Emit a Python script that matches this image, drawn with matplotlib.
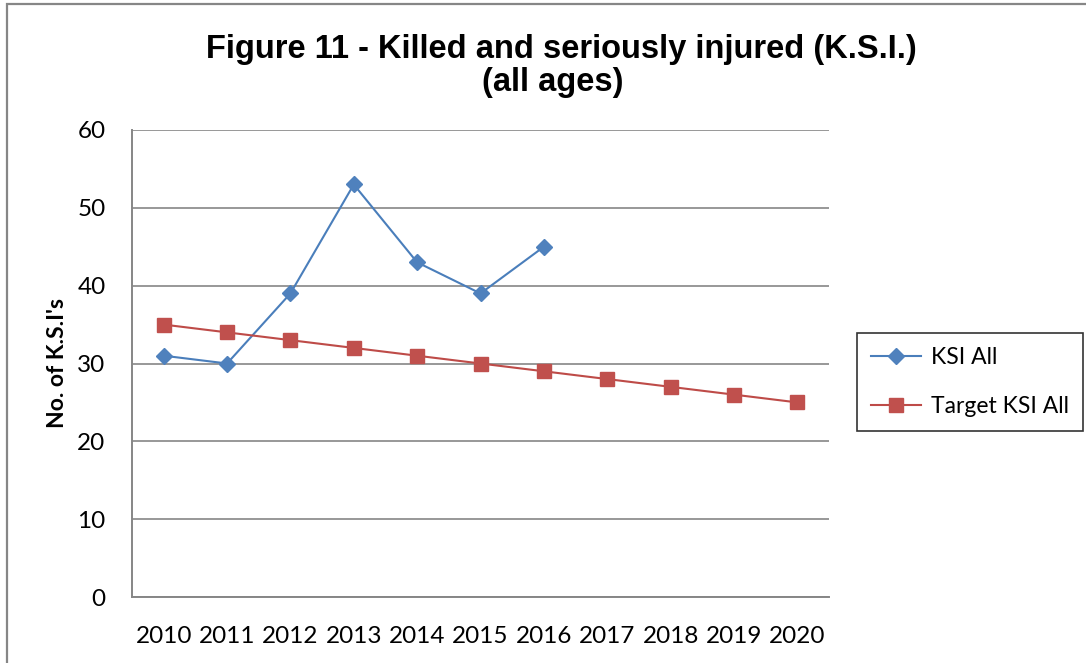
import numpy as np
import matplotlib.pyplot as plt
from matplotlib.patches import Rectangle

years = ['2010', '2011', '2012', '2013', '2014', '2015', '2016',
         '2017', '2018', '2019', '2020']
ksi_all = [31, 30, 39, 53, 43, 39, 45]
target_ksi = [35, 34, 33, 32, 31, 30, 29, 28, 27, 26, 25]

W, H = 1086, 663
fig = plt.figure(figsize=(W / 100, H / 100), dpi=100)

# outer chart frame (runs off the right and bottom edges)
fig.patches.append(Rectangle((7 / W, -0.1), 1.2, 1.1 - 4 / H,
                             transform=fig.transFigure, fill=False,
                             edgecolor='#868686', linewidth=1.6))

ax = fig.add_axes([132 / W, 66 / H, 697 / W, 467 / H])

x = np.arange(len(years))
ax.plot(x[:len(ksi_all)], ksi_all, color='#4A7EBB', linewidth=1.5,
        marker='D', markersize=8, markerfacecolor='#4F81BD',
        markeredgecolor='#4F81BD', label='KSI All')
ax.plot(x, target_ksi, color='#BE4B48', linewidth=1.5,
        marker='s', markersize=9.5, markerfacecolor='#C0504D',
        markeredgecolor='#C0504D', label='Target KSI All')

ax.set_xlim(-0.5, len(years) - 0.5)
ax.set_ylim(0, 60)
ax.set_yticks(range(0, 61, 10))
ax.set_xticks(x)
ax.set_xticklabels(years)
ax.grid(axis='y', color='#868686', linewidth=1.2)
ax.set_axisbelow(True)
for side in ['top', 'right']:
    ax.spines[side].set_visible(False)
for side in ['left', 'bottom']:
    ax.spines[side].set_color('#868686')
    ax.spines[side].set_linewidth(1.4)
ax.tick_params(length=0, labelsize=17.5)
ax.tick_params(axis='y', pad=19)
ax.tick_params(axis='x', pad=21)
for lab in ax.get_xticklabels() + ax.get_yticklabels():
    lab.set_fontfamily('Lato')

ax.set_ylabel("No. of K.S.I's", fontsize=16.5, fontweight='bold',
              fontfamily='Lato', va='center')
ax.yaxis.set_label_coords(-75 / 697, 0.5)

fig.text(561 / W, 1 - 58 / H, 'Figure 11 - Killed and seriously injured (K.S.I.)',
         ha='center', va='baseline', fontsize=23.5, fontweight='bold',
         fontfamily='Liberation Sans')
fig.text(553 / W, 1 - 91 / H, '(all ages)', ha='center', va='baseline',
         fontsize=23.5, fontweight='bold', fontfamily='Liberation Sans')

leg = fig.legend(loc='center left', bbox_to_anchor=(857 / W, 1 - 382 / H),
                 frameon=True, fancybox=False, prop={'family': 'Lato', 'size': 16.5},
                 handlelength=2.2, labelspacing=1.25, borderpad=0.6,
                 handletextpad=0.45, borderaxespad=0)
leg.get_frame().set_edgecolor('black')
leg.get_frame().set_linewidth(1.2)

fig.savefig('out.png', dpi=100)
